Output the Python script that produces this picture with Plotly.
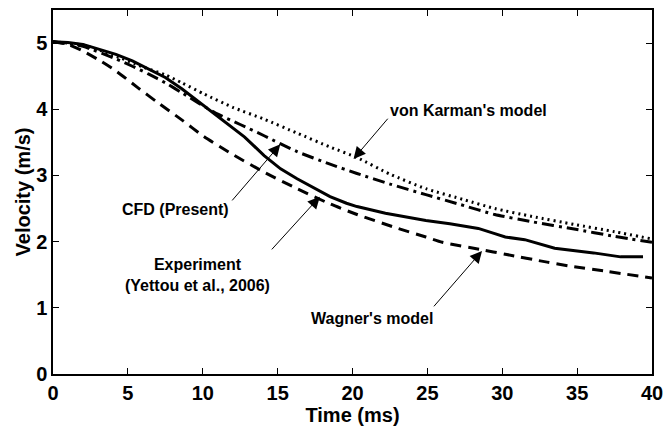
import plotly.graph_objects as go

# Experiment (solid)
exp_t = [0, 1, 2, 3, 4.2, 5.3, 6.4, 7.5, 8.6, 9.7, 10.4, 11.2, 11.9, 12.8, 14.1, 15.2, 16.3, 17.4, 18.5,
         19.6, 20.3, 22.2, 24.9, 26.5, 28.4, 29.5, 30.2, 31.5, 33.5, 36.1, 37.9, 39.4]
exp_v = [5.02, 5.01, 4.98, 4.91, 4.83, 4.73, 4.61, 4.48, 4.31, 4.12, 3.99, 3.86, 3.74, 3.58, 3.30, 3.10, 2.95,
         2.82, 2.68, 2.58, 2.53, 2.43, 2.32, 2.27, 2.20, 2.12, 2.07, 2.03, 1.90, 1.83, 1.77, 1.77]

# CFD (dash-dot)
cfd_t = [0, 2, 4.2, 5.3, 6.4, 7.5, 8.6, 10.8, 12.5, 14.1, 16.3, 18.5, 20.3, 22.5, 24.9, 27.2, 29.5, 32, 34.8, 37.5, 40]
cfd_v = [5.02, 4.95, 4.76, 4.65, 4.53, 4.40, 4.25, 3.95, 3.77, 3.60, 3.36, 3.17, 3.03, 2.87, 2.71, 2.56, 2.41,
         2.30, 2.19, 2.08, 1.99]

# von Karman's model (dotted)
vk_t = [0, 2, 4, 6, 7.5, 8.6, 10.1, 12, 14.1, 16.3, 18.5, 20.3, 22.5, 24.9, 27.5, 29.5, 32, 34.8, 37.5, 40]
vk_v = [5.02, 4.97, 4.82, 4.64, 4.52, 4.40, 4.23, 4.03, 3.85, 3.64, 3.43, 3.27, 3.02, 2.80, 2.63, 2.50, 2.38,
        2.26, 2.15, 2.04]

# Wagner's model (dashed)
wg_t = [0, 1, 2, 3.1, 4.2, 5.7, 7, 8.6, 10, 11.9, 14.1, 16.3, 18.5, 20.3, 22.9, 24.9, 26, 28.6,
        30.2, 33, 34.8, 37, 40]
wg_v = [5.02, 4.98, 4.88, 4.74, 4.58, 4.32, 4.10, 3.84, 3.60, 3.33, 3.05, 2.80, 2.57, 2.41, 2.21,
        2.07, 1.99, 1.88, 1.81, 1.69, 1.62, 1.55, 1.45]

x_ticks = [0, 5, 10, 15, 20, 25, 30, 35, 40]
y_ticks = [0, 1, 2, 3, 4, 5]

FONT = "Liberation Sans, Arial, sans-serif"

fig = go.Figure()
fig.add_trace(go.Scatter(x=vk_t, y=vk_v, mode="lines", line=dict(color="black", width=3, dash="2px,4px", shape="spline", smoothing=0.6)))
fig.add_trace(go.Scatter(x=cfd_t, y=cfd_v, mode="lines", line=dict(color="black", width=3, dash="12px,5px,3px,5px", shape="spline", smoothing=0.6)))
fig.add_trace(go.Scatter(x=wg_t, y=wg_v, mode="lines", line=dict(color="black", width=3, dash="11px,7px", shape="spline", smoothing=0.6)))
fig.add_trace(go.Scatter(x=exp_t, y=exp_v, mode="lines", line=dict(color="black", width=3)))

# arrows: (head_x, head_y, tail_x, tail_y)
arrows = [
    (20.07, 3.25, 22.44, 3.88),
    (15.18, 3.47, 11.88, 2.60),
    (17.82, 2.68, 14.52, 1.86),
    (28.65, 1.86, 25.35, 1.00),
]
for hx, hy, tx, ty in arrows:
    fig.add_annotation(x=hx, y=hy, ax=tx, ay=ty, xref="x", yref="y", axref="x", ayref="y",
                       showarrow=True, arrowhead=2, arrowsize=2.4, arrowwidth=1, arrowcolor="black", text="")

labels = [
    (27.72, 3.98, "<b>von Karman's model</b>"),
    (8.18, 2.49, "<b>CFD (Present)</b>"),
    (9.64, 1.50, "<b>Experiment</b><br><b>(Yettou et al., 2006)</b>"),
    (21.32, 0.84, "<b>Wagner's model</b>"),
]
for lx, ly, txt in labels:
    fig.add_annotation(x=lx, y=ly, xref="x", yref="y", text=txt, showarrow=False,
                       font=dict(family=FONT, size=16, color="black"), align="center")

axis_common = dict(showline=True, linecolor="black", linewidth=1.5, mirror="ticks", ticks="inside",
                   ticklen=6, tickcolor="black", tickwidth=1, showgrid=False, zeroline=False,
                   tickfont=dict(family=FONT, size=20, color="black"))

fig.update_xaxes(range=[0, 40], tickvals=x_ticks, ticktext=[f"<b>{v}</b>" for v in x_ticks],
                 title=dict(text="<b>Time (ms)</b>", font=dict(family=FONT, size=20, color="black"), standoff=0),
                 **axis_common)
fig.update_yaxes(range=[0, 5.5], tickvals=y_ticks, ticktext=[f"<b>{v}</b>" for v in y_ticks],
                 title=dict(text="<b>Velocity (m/s)</b>", font=dict(family=FONT, size=20, color="black"), standoff=0),
                 **axis_common)

fig.update_layout(width=671, height=427, margin=dict(l=53, r=12, t=8, b=53),
                  paper_bgcolor="white", plot_bgcolor="white", showlegend=False,
                  font=dict(family=FONT, color="black"))

fig.write_html("out.html")
